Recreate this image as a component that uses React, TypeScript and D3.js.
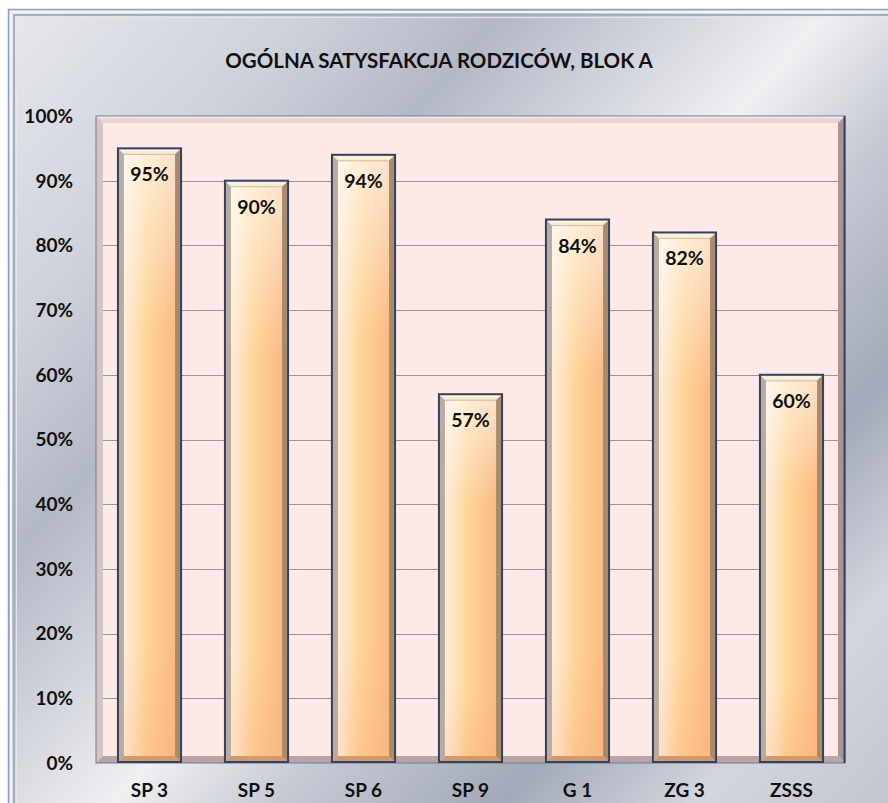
import React from "react";
import * as d3 from "d3";

const categories = ["SP 3", "SP 5", "SP 6", "SP 9", "G 1", "ZG 3", "ZSSS"];
const values = [0.95, 0.9, 0.94, 0.57, 0.84, 0.82, 0.6];
const yTicks = [0, 0.1, 0.2, 0.3, 0.4, 0.5, 0.6, 0.7, 0.8, 0.9, 1.0];
const title = "OGÓLNA SATYSFAKCJA RODZICÓW, BLOK A";

const W = 888;
const H = 803;
const PL = 96, PR = 845, PT = 116, PB = 763;
const FONT = "Lato, 'Open Sans', sans-serif";

export default function App() {
  const x = d3.scaleBand<string>().domain(categories).range([PL, PR]).paddingInner(0.41).paddingOuter(0.205);
  const y = d3.scaleLinear().domain([0, 1]).range([PB, PT]);
  const fmt = d3.format(".0%");
  const bv = 7; // plot bevel
  const bb = 6; // bar bevel

  return (
    <svg width={W} height={H} style={{ position: "absolute", left: 0, top: 0, background: "#fff" }}>
      <defs>
        <linearGradient id="bg" gradientUnits="userSpaceOnUse" x1={0} y1={0} x2={888} y2={803}>
          <stop offset="0" stopColor="#e8eaee" />
          <stop offset="0.2" stopColor="#cdd1d9" />
          <stop offset="0.32" stopColor="#b3b8c5" />
          <stop offset="0.44" stopColor="#d6d9df" />
          <stop offset="0.52" stopColor="#eff0f2" />
          <stop offset="0.62" stopColor="#c6cad3" />
          <stop offset="0.76" stopColor="#a3a9b8" />
          <stop offset="0.88" stopColor="#d3d6dd" />
          <stop offset="1" stopColor="#c2c6cf" />
        </linearGradient>
        <linearGradient id="barH" x1="0" y1="0" x2="1" y2="0">
          <stop offset="0" stopColor="#fde2c4" />
          <stop offset="0.45" stopColor="#ffd598" />
          <stop offset="1" stopColor="#f9b47f" />
        </linearGradient>
        <linearGradient id="barV" x1="0" y1="0" x2="0" y2="1">
          <stop offset="0" stopColor="#ffffff" stopOpacity="0.6" />
          <stop offset="0.3" stopColor="#ffffff" stopOpacity="0" />
          <stop offset="0.8" stopColor="#fbb27c" stopOpacity="0" />
          <stop offset="1" stopColor="#fbb27c" stopOpacity="0.45" />
        </linearGradient>
        <linearGradient id="barHL" x1="0" y1="0" x2="1" y2="0">
          <stop offset="0" stopColor="#ffffff" stopOpacity="0.5" />
          <stop offset="0.45" stopColor="#ffffff" stopOpacity="0" />
        </linearGradient>
      </defs>

      {/* page background & outer frame */}
      <rect x={8} y={9} width={W} height={H} fill="url(#bg)" />
      <rect x={8.5} y={9.5} width={W + 10} height={H + 10} fill="none" stroke="#8aa0c6" strokeWidth={1.5} />
      <rect x={11} y={12} width={W} height={H} fill="none" stroke="#f2f3f6" strokeWidth={2} />
      <rect x={14} y={15} width={W} height={H} fill="none" stroke="#a9aeb8" strokeWidth={2} />
      <rect x={16.5} y={17.5} width={W} height={H} fill="none" stroke="#e4e6ea" strokeWidth={1} />

      {/* title */}
      <text x={439} y={68} textAnchor="middle" fontFamily={FONT} fontWeight={700} fontSize={20.5} fill="#111">
        {title}
      </text>

      {/* plot area */}
      <rect x={PL} y={PT} width={PR - PL} height={PB - PT} fill="#fde9e7" />
      {/* plot bevel */}
      <polygon points={`${PL},${PT} ${PR},${PT} ${PR - bv},${PT + bv} ${PL + bv},${PT + bv}`} fill="#e9d5d3" />
      <polygon points={`${PL},${PT} ${PL + bv},${PT + bv} ${PL + bv},${PB - bv} ${PL},${PB}`} fill="#d8c3c3" />
      <polygon points={`${PR},${PT} ${PR},${PB} ${PR - bv},${PB - bv} ${PR - bv},${PT + bv}`} fill="#ad9494" />
      <polygon points={`${PL},${PB} ${PL + bv},${PB - bv} ${PR - bv},${PB - bv} ${PR},${PB}`} fill="#bca4a4" />
      <line x1={PL + 1} x2={PR - 1} y1={PT + 1} y2={PT + 1} stroke="#fff6f4" strokeWidth={1.5} />
      <rect x={PL} y={PT} width={PR - PL} height={PB - PT} fill="none" stroke="#6e7d98" strokeWidth={1} />
      <line x1={PR - 0.5} x2={PR - 0.5} y1={PT} y2={PB} stroke="#34425e" strokeWidth={2} />

      {/* gridlines */}
      {yTicks.slice(1, -1).map((t) => (
        <line key={t} x1={PL + bv} x2={PR - bv} y1={Math.round(y(t)) + 0.5} y2={Math.round(y(t)) + 0.5} stroke="#9a9696" strokeWidth={1} />
      ))}

      {/* y tick labels */}
      {yTicks.map((t) => (
        <text key={t} x={73} y={y(t)} dy="0.36em" textAnchor="end" fontFamily={FONT} fontWeight={700} fontSize={19} fill="#111">
          {fmt(t)}
        </text>
      ))}

      {/* bars */}
      {categories.map((c, i) => {
        const x0 = x(c)!;
        const w = x.bandwidth();
        const x1 = x0 + w;
        const y0 = y(values[i]);
        const y1 = PB - 1;
        return (
          <g key={c}>
            <rect x={x0} y={y0} width={w} height={y1 - y0} fill="url(#barH)" />
            <rect x={x0} y={y0} width={w} height={y1 - y0} fill="url(#barV)" />
            <rect x={x0} y={y0} width={w} height={y1 - y0} fill="url(#barHL)" />
            <polygon points={`${x0},${y0} ${x1},${y0} ${x1 - bb},${y0 + bb} ${x0 + bb},${y0 + bb}`} fill="#f7ecd6" />
            <polygon points={`${x0},${y0} ${x0 + bb},${y0 + bb} ${x0 + bb},${y1 - bb} ${x0},${y1}`} fill="#b9ab9f" />
            <polygon points={`${x1},${y0} ${x1},${y1} ${x1 - bb},${y1 - bb} ${x1 - bb},${y0 + bb}`} fill="#a88a6c" />
            <polygon points={`${x0},${y1} ${x0 + bb},${y1 - bb} ${x1 - bb},${y1 - bb} ${x1},${y1}`} fill="#d19a6c" />
            <line x1={x0 + bb} x2={x1 - bb} y1={y0 + bb} y2={y0 + bb} stroke="#c9b08a" strokeWidth={0.8} />
            <rect x={x0} y={y0} width={w} height={y1 - y0} fill="none" stroke="#34425e" strokeWidth={2} />
            <rect x={x0 + 2} y={y0 + 2} width={w - 4} height={0.8} fill="#fff" opacity={0.7} />
            <text x={x0 + w / 2} y={y0 + 33} textAnchor="middle" fontFamily={FONT} fontWeight={700} fontSize={19.5} fill="#111">
              {fmt(values[i])}
            </text>
          </g>
        );
      })}

      {/* x labels */}
      {categories.map((c) => (
        <text key={c} x={x(c)! + x.bandwidth() / 2} y={797} textAnchor="middle" fontFamily={FONT} fontWeight={700} fontSize={19} fill="#111">
          {c}
        </text>
      ))}
    </svg>
  );
}
